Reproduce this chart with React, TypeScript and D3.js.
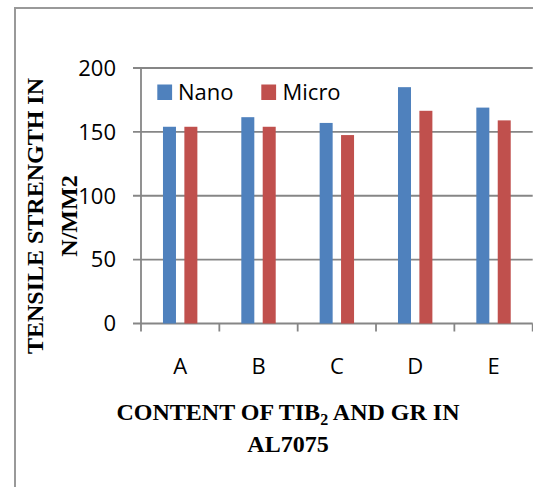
import React from "react";
import * as d3 from "d3";

const categories = ["A", "B", "C", "D", "E"];
const seriesNames = ["Nano", "Micro"];
const nanoValues = [154, 161.5, 157, 185, 169];
const microValues = [154, 154, 147.5, 166.5, 159];
const yTicks = [0, 50, 100, 150, 200];
const colors = ["#4F81BD", "#C0504D"];

const W = 533;
const H = 487;

export default function App() {
  const x0 = d3.scaleBand<string>().domain(categories).range([141, 532.7]).padding(0);
  const x1 = d3
    .scaleBand<string>()
    .domain(seriesNames)
    .range([0, x0.bandwidth()])
    .paddingInner(0.3925)
    .paddingOuter(1.027);
  const y = d3.scaleLinear().domain([0, 200]).range([323.5, 68]);
  const values = [nanoValues, microValues];
  const sans = "'Open Sans', sans-serif";
  const serif = "'Liberation Serif', 'Times New Roman', serif";
  const grid = "#868686";
  const tickEdges = [...categories.map((c) => x0(c) as number), 532.7];

  return (
    <svg
      width={W}
      height={H}
      style={{ position: "absolute", left: 0, top: 0, display: "block", background: "#fff" }}
    >
      {/* frame */}
      <path d={`M15,${H + 5} L15,8 L${W + 5},8`} fill="none" stroke="#999" strokeWidth={2} />

      {/* gridlines */}
      {yTicks.map((t) => (
        <line key={"g" + t} x1={133} x2={532.7} y1={y(t)} y2={y(t)} stroke={grid} strokeWidth={1.8} />
      ))}
      {/* y axis */}
      <line x1={141} x2={141} y1={y(200)} y2={y(0)} stroke={grid} strokeWidth={1.8} />
      {/* x ticks */}
      {tickEdges.map((tx, i) => (
        <line key={"xt" + i} x1={tx} x2={tx} y1={y(0)} y2={y(0) + 8} stroke={grid} strokeWidth={1.8} />
      ))}

      {/* bars */}
      {seriesNames.map((s, si) =>
        categories.map((c, ci) => (
          <rect
            key={s + c}
            x={(x0(c) as number) + (x1(s) as number)}
            y={y(values[si][ci])}
            width={x1.bandwidth()}
            height={y(0) - y(values[si][ci])}
            fill={colors[si]}
          />
        ))
      )}

      {/* y tick labels */}
      {yTicks.map((t) => (
        <text key={"yl" + t} x={116} y={y(t) + 7.8} textAnchor="end" fontFamily={sans} fontSize={22} fill="#000">
          {t}
        </text>
      ))}

      {/* x labels */}
      {categories.map((c) => (
        <text
          key={"xl" + c}
          x={(x0(c) as number) + x0.bandwidth() / 2}
          y={374}
          textAnchor="middle"
          fontFamily={sans}
          fontSize={22}
          fill="#000"
        >
          {c}
        </text>
      ))}

      {/* legend */}
      <rect x={157.3} y={84.5} width={14.8} height={15.5} fill={colors[0]} />
      <text x={178} y={100} fontFamily={sans} fontSize={22} fill="#000">
        {seriesNames[0]}
      </text>
      <rect x={261.3} y={84.5} width={14.8} height={15.5} fill={colors[1]} />
      <text x={282.5} y={100} fontFamily={sans} fontSize={22} fill="#000">
        {seriesNames[1]}
      </text>

      {/* x title */}
      <text x={288} y={420} textAnchor="middle" fontFamily={serif} fontWeight="bold" fontSize={24} fill="#000">
        CONTENT OF TIB
        <tspan fontSize={16} dy={5}>2</tspan>
        <tspan dy={-5}> AND GR IN</tspan>
      </text>
      <text x={288} y={452} textAnchor="middle" fontFamily={serif} fontWeight="bold" fontSize={24} fill="#000">
        AL7075
      </text>

      {/* y title */}
      <text
        transform="translate(43,216) rotate(-90)"
        textAnchor="middle"
        fontFamily={serif}
        fontWeight="bold"
        fontSize={24}
        fill="#000"
      >
        TENSILE STRENGTH IN
      </text>
      <text
        transform="translate(77.3,216) rotate(-90)"
        textAnchor="middle"
        fontFamily={serif}
        fontWeight="bold"
        fontSize={24}
        fill="#000"
      >
        N/MM2
      </text>
    </svg>
  );
}
